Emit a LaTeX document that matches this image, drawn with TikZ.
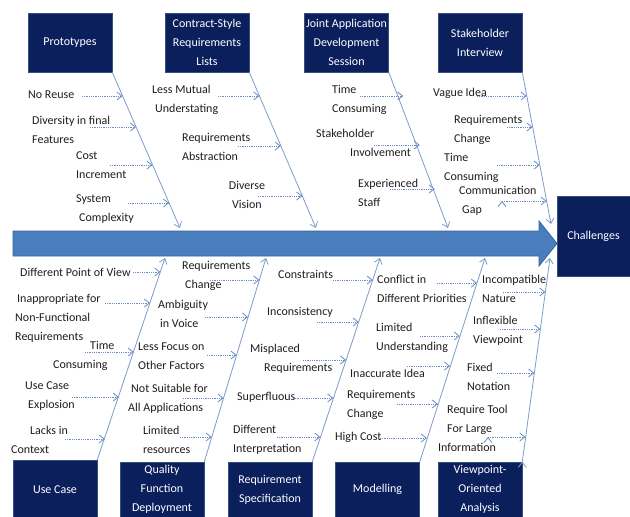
\documentclass[tikz,border=0pt]{standalone}
\usepackage{fontspec}
\setmainfont{Carlito}
\usepackage{tikz}
\usetikzlibrary{arrows.meta}
\usepackage{xcolor}
\definecolor{navy}{HTML}{0B1F5C}
\definecolor{navyedge}{HTML}{34507F}
\definecolor{spinefill}{HTML}{4A7DBD}
\definecolor{spineedge}{HTML}{35649F}
\definecolor{bonecol}{HTML}{7E9CCB}
\definecolor{twigcol}{HTML}{6A8CC4}
\definecolor{txt}{HTML}{1E1E1E}

\tikzset{
   cat/.style={draw=navyedge, line width=0.6pt, fill=navy, text=white, align=center,
      minimum width=84pt, minimum height=59pt, inner sep=1pt,
      font=\fontsize{12}{19}\selectfont},
   cause/.style={anchor=west, inner sep=0pt, align=left, text=txt,
      font=\fontsize{12}{19}\selectfont},
   bone/.style={draw=bonecol, line width=0.8pt, -{Straight Barb[length=5pt,width=8pt]}},
   twig/.style={draw=twigcol, line width=0.8pt, densely dotted,
      -{Straight Barb[length=5pt,width=8pt]}},
   spine/.style={fill=spinefill, draw=spineedge, line width=0.8pt}
}

\begin{document}
\begin{tikzpicture}[x=1pt,y=-1pt]
   \fill[white] (0,0) rectangle (630,517);
   \useasboundingbox (0,0) rectangle (630,517);

   \draw[spine] (13,231) -- (539,231) -- (539,221) -- (557,243.5)
      -- (539,266) -- (539,256) -- (13,256) -- cycle;

   \node[cat] (x_proto) at (70,42.5)    {Prototypes};
   \node[cat] (x_csrl)  at (207,42.5)   {Contract-Style\\Requirements\\Lists};
   \node[cat] (x_jad)   at (346.5,42.5) {Joint Application\\Development\\Session};
   \node[cat] (x_inter) at (480,42.5)   {Stakeholder\\Interview};
   \node[cat] (x_uc)    at (55,489.5)   {Use Case};
   \node[cat, minimum height=55pt] (x_qfd) at (162,489.5) {Quality\\Function\\Deployment};
   \node[cat, minimum height=55pt] (x_rs)  at (270,489.5) {Requirement\\Specification};
   \node[cat, minimum height=55pt] (x_mod) at (377.5,489.5) {Modelling};
   \node[cat, minimum height=55pt] (x_voa) at (480,489.5) {Viewpoint-\\Oriented\\Analysis};
   \node[cat, minimum width=73pt, minimum height=80pt] (x_ch) at (593.5,236) {Challenges};

   \coordinate (h_proto) at (180,228);
   \coordinate (h_csrl)  at (316,228);
   \coordinate (h_jad)   at (448,228);
   \coordinate (h_inter) at (551,224);
   \coordinate (h_uc)    at (165,258);
   \coordinate (h_qfd)   at (266,258);
   \coordinate (h_rs)    at (380,258);
   \coordinate (h_mod)   at (485,258);
   \coordinate (h_voa)   at (550,258);
   \path[bone]
   (x_proto.south east) edge (h_proto)
   (x_csrl.south east)  edge (h_csrl)
   (x_jad.south east)   edge (h_jad)
   (x_inter.south east) edge (h_inter)
   (x_uc.north east)    edge (h_uc)
   (x_qfd.north east)   edge (h_qfd)
   (x_rs.north east)    edge (h_rs)
   (x_mod.north east)   edge (h_mod)
   (x_voa.north east)   edge (h_voa);

   \node[cause] (p_1) at (28,95)    {No Reuse};
   \node[cause] (p_2) at (32,129.5) {Diversity in final\\Features};
   \node[cause] (p_3) at (76,165.5) {Cost\\Increment};
   \node[cause] (p_4) at (76,209)   {System\\\hspace*{3pt}Complexity};
   \node[cause] (k_1) at (152,99.5) {Less Mutual\\\hspace*{3pt}Understating};
   \node[cause] (k_2) at (182,146.5) {Requirements\\Abstraction};
   \node[cause, anchor=center, align=center] (k_3) at (247,194.5) {Diverse\\Vision};
   \node[cause] (j_1) at (332,99.5) {Time\\Consuming};
   \node[cause] (j_2) at (316,142.5) {Stakeholder\\\hspace*{34pt}Involvement};
   \node[cause] (j_3) at (358,193)  {Experienced\\Staff};
   \node[cause] (s_1) at (433,93)   {Vague Idea};
   \node[cause] (s_2) at (454,129.5) {Requirements\\Change};
   \node[cause] (s_3) at (444,167.5) {Time\\Consuming};
   \node[cause] (s_4) at (459,201)  {Communication\\\hspace*{3pt}Gap};

   \node[cause] (u_1) at (20,272)   {Different Point of View};
   \node[cause] (u_2) at (15,318)   {\hspace*{2pt}Inappropriate for\\Non-Functional\\Requirements};
   \node[cause] (u_3) at (53,356)   {\hspace*{37pt}Time\\Consuming};
   \node[cause] (u_4) at (25,396.5) {Use Case\\\hspace*{3pt}Explosion};
   \node[cause] (u_5) at (11,440)   {\hspace*{19pt}Lacks in\\Context};
   \node[cause] (q_1) at (182,276)  {Requirements\\\hspace*{3pt}Change};
   \node[cause] (q_2) at (158,314)  {Ambiguity\\\hspace*{2pt}in Voice};
   \node[cause] (q_3) at (138,356.5) {Less Focus on\\Other Factors};
   \node[cause] (q_4) at (128,399)  {\hspace*{3pt}Not Suitable for\\All Applications};
   \node[cause] (q_5) at (143,440)  {Limited\\resources};
   \node[cause] (r_1) at (278,274)  {Constraints};
   \node[cause] (r_2) at (267,312)  {Inconsistency};
   \node[cause] (r_3) at (250,358.5) {Misplaced\\\hspace*{14pt}Requirements};
   \node[cause] (r_4) at (237,397)  {Superfluous};
   \node[cause] (r_5) at (233,439.5) {Different\\Interpretation};
   \node[cause] (m_1) at (377,289)  {Conflict in\\Different Priorities};
   \node[cause] (m_2) at (376,337.5) {Limited\\Understanding};
   \node[cause] (m_3) at (350,373)  {Inaccurate Idea};
   \node[cause] (m_4) at (347,405)  {Requirements\\Change};
   \node[cause] (m_5) at (335,437)  {High Cost};
   \node[cause] (v_1) at (482,289)  {Incompatible\\Nature};
   \node[cause] (v_2) at (473,330.5) {Inflexible\\Viewpoint};
   \node[cause] (v_3) at (467,376.5) {Fixed\\Notation};
   \node[cause] (v_4) at (438,428)  {\hspace*{9pt}Require Tool\\\hspace*{9pt}For Large\\Information};

   \coordinate (p_1a) at (82,96);   \coordinate (p_1b) at (122.5,96);
   \coordinate (p_2a) at (90,127);  \coordinate (p_2b) at (136,127);
   \coordinate (p_3a) at (110,165); \coordinate (p_3b) at (152.5,165);
   \coordinate (p_4a) at (128,203); \coordinate (p_4b) at (169,203);
   \coordinate (k_1a) at (218,96);  \coordinate (k_1b) at (259.3,96);
   \coordinate (k_2a) at (238,146); \coordinate (k_2b) at (280.8,146);
   \coordinate (k_3a) at (258,196); \coordinate (k_3b) at (302.3,196);
   \coordinate (j_1a) at (360,96);  \coordinate (j_1b) at (403.2,96);
   \coordinate (j_2a) at (374,145); \coordinate (j_2b) at (419.8,145);
   \coordinate (j_3a) at (390,189); \coordinate (j_3b) at (434.8,189);
   \coordinate (s_1a) at (477,96);  \coordinate (s_1b) at (526.6,96);
   \coordinate (s_2a) at (507,127); \coordinate (s_2b) at (532.5,127);
   \coordinate (s_3a) at (497,165); \coordinate (s_3b) at (539.7,165);
   \coordinate (s_4a) at (502,201); \coordinate (s_4b) at (546.6,201);
   \path[twig]
   (p_1a) edge (p_1b) (p_2a) edge (p_2b) (p_3a) edge (p_3b) (p_4a) edge (p_4b)
   (k_1a) edge (k_1b) (k_2a) edge (k_2b) (k_3a) edge (k_3b)
   (j_1a) edge (j_1b) (j_2a) edge (j_2b) (j_3a) edge (j_3b)
   (s_1a) edge (s_1b) (s_2a) edge (s_2b) (s_3a) edge (s_3b) (s_4a) edge (s_4b);

   \coordinate (u_1a) at (133,272); \coordinate (u_1b) at (160.3,272);
   \coordinate (u_2a) at (105,303); \coordinate (u_2b) at (150,303);
   \coordinate (u_3a) at (85,352);  \coordinate (u_3b) at (133.7,352);
   \coordinate (u_4a) at (72,397);  \coordinate (u_4b) at (118.7,397);
   \coordinate (u_5a) at (65,439);  \coordinate (u_5b) at (104.7,439);
   \coordinate (q_1a) at (210,280); \coordinate (q_1b) at (259.3,280);
   \coordinate (q_2a) at (205,317); \coordinate (q_2b) at (248,317);
   \coordinate (q_3a) at (207,355); \coordinate (q_3b) at (236.5,355);
   \coordinate (q_4a) at (183,398); \coordinate (q_4b) at (223.5,398);
   \coordinate (q_5a) at (180,437); \coordinate (q_5b) at (211.6,437);
   \coordinate (r_1a) at (333,280); \coordinate (r_1b) at (372.7,280);
   \coordinate (r_2a) at (317,322); \coordinate (r_2b) at (358.7,322);
   \coordinate (r_3a) at (303,360); \coordinate (r_3b) at (346,360);
   \coordinate (r_4a) at (293,398); \coordinate (r_4b) at (333.3,398);
   \coordinate (r_5a) at (277,437); \coordinate (r_5b) at (320.3,437);
   \coordinate (m_1a) at (437,283); \coordinate (m_1b) at (476.9,283);
   \coordinate (m_2a) at (420,336); \coordinate (m_2b) at (459.8,336);
   \coordinate (m_3a) at (407,366); \coordinate (m_3b) at (450,366);
   \coordinate (m_4a) at (397,404); \coordinate (m_4b) at (437.8,404);
   \coordinate (m_5a) at (380,438); \coordinate (m_5b) at (426.8,438);
   \coordinate (v_1a) at (503,292); \coordinate (v_1b) at (545.3,292);
   \coordinate (v_2a) at (500,329); \coordinate (v_2b) at (540.3,329);
   \coordinate (v_3a) at (497,373); \coordinate (v_3b) at (534.2,373);
   \coordinate (v_4a) at (488,437); \coordinate (v_4b) at (525.4,437);
   \path[twig]
   (u_1a) edge (u_1b) (u_2a) edge (u_2b) (u_3a) edge (u_3b) (u_4a) edge (u_4b) (u_5a) edge (u_5b)
   (q_1a) edge (q_1b) (q_2a) edge (q_2b) (q_3a) edge (q_3b) (q_4a) edge (q_4b) (q_5a) edge (q_5b)
   (r_1a) edge (r_1b) (r_2a) edge (r_2b) (r_3a) edge (r_3b) (r_4a) edge (r_4b) (r_5a) edge (r_5b)
   (m_1a) edge (m_1b) (m_2a) edge (m_2b) (m_3a) edge (m_3b) (m_4a) edge (m_4b) (m_5a) edge (m_5b)
   (v_1a) edge (v_1b) (v_2a) edge (v_2b) (v_3a) edge (v_3b) (v_4a) edge (v_4b);
\end{tikzpicture}
\end{document}
